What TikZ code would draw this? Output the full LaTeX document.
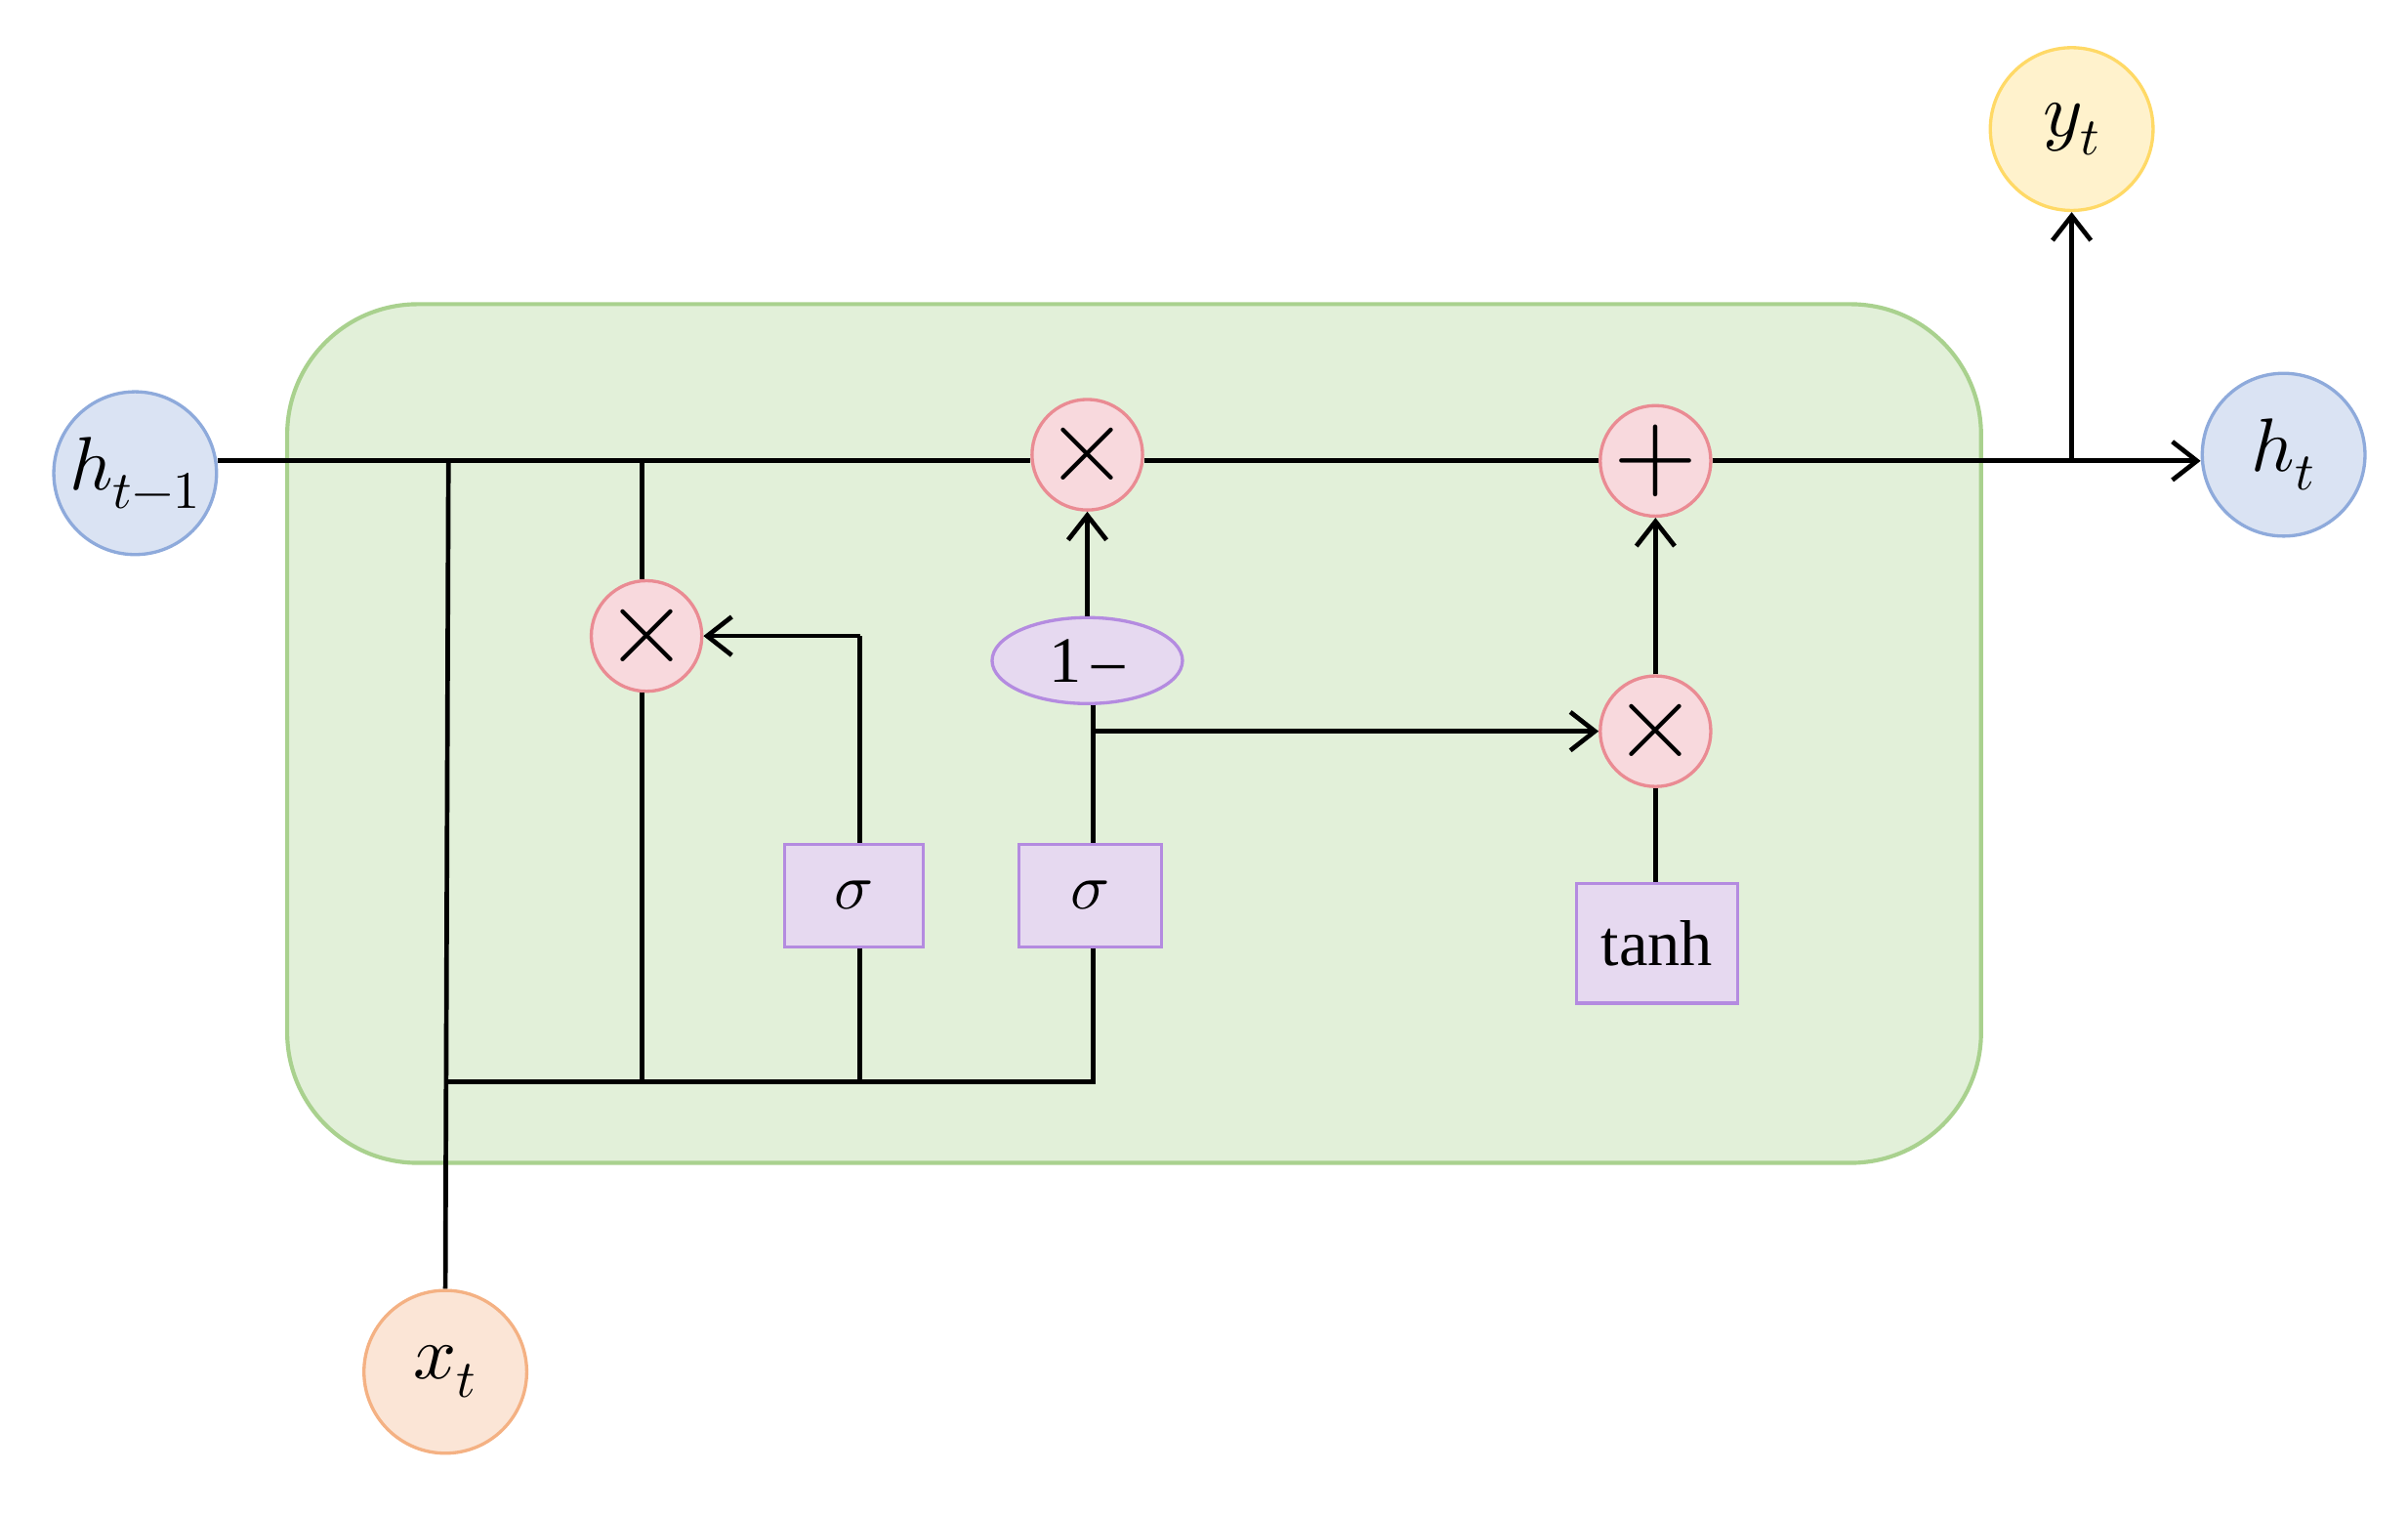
\documentclass[tikz,border=0pt]{standalone}
\usepackage{fontspec}
\usepackage{unicode-math}
\setmainfont{Liberation Serif}
\setmathfont{Latin Modern Math}
\usetikzlibrary{arrows.meta,shapes.geometric}
\definecolor{gfill}{HTML}{E2F0D9}\definecolor{gline}{HTML}{A9D18E}
\definecolor{bfill}{HTML}{DAE3F3}\definecolor{bline}{HTML}{8EAADB}
\definecolor{yfill}{HTML}{FFF2CC}\definecolor{yline}{HTML}{FFD966}
\definecolor{ofill}{HTML}{FBE5D6}\definecolor{oline}{HTML}{F4B183}
\definecolor{pfill}{HTML}{F8D9DD}\definecolor{pline}{HTML}{EA8B93}
\definecolor{vfill}{HTML}{E6D9F0}\definecolor{vline}{HTML}{B48BE0}
\begin{document}
\begin{tikzpicture}[x=0.02cm,y=-0.02cm,
  io/.style={circle,draw,line width=1.2pt,minimum size=2.12cm,inner sep=0pt,font=\fontsize{28}{32}\selectfont},
  op/.style={circle,draw=pline,fill=pfill,line width=1.2pt,minimum size=1.44cm,inner sep=0pt,font=\fontsize{40}{40}\selectfont},
  box/.style={rectangle,draw=vline,fill=vfill,line width=1.2pt,inner sep=0pt,font=\fontsize{24}{28}\selectfont},
  ln/.style={line width=1.7pt},
  ar/.style={ln,-{Straight Barb[length=3.2mm,width=5mm,line width=1.7pt]}}]
\useasboundingbox (0,0) rectangle (1568,985);
\draw[fill=gfill,draw=gline,line width=1.5pt,rounded corners=1.7cm] (187,198) rectangle (1290,757);
\node[io,fill=bfill,draw=bline] (hp) at (88,308) {$h_{t-1}$};
\node[io,fill=bfill,draw=bline] (ht) at (1487,296) {$h_t$};
\node[io,fill=yfill,draw=yline] (yt) at (1349,84) {$y_t$};
\node[io,fill=ofill,draw=oline] (xt) at (290,893) {$x_t$};
\node[op] (m1) at (708,296) {$\times$};
\node[op] (pl) at (1078,300) {$+$};
\node[op] (m2) at (421,414) {$\times$};
\node[op] (m3) at (1078,476) {$\times$};
\node[ellipse,draw=vline,fill=vfill,line width=1.2pt,minimum width=2.48cm,minimum height=1.12cm,inner sep=0pt,font=\fontsize{24}{28}\selectfont] (om) at (708,430) {1\,–};
\node[box,minimum width=1.8cm,minimum height=1.34cm] (s1) at (556,583) {$\sigma$};
\node[box,minimum width=1.86cm,minimum height=1.34cm] (s2) at (710,583) {$\sigma$};
\node[box,minimum width=2.1cm,minimum height=1.56cm] (th) at (1079,614) {tanh};
\coordinate (a1) at (292,300); \coordinate (a2) at (418,300);
\coordinate (b0) at (292,704); \coordinate (b1) at (418,704); \coordinate (b2) at (560,704); \coordinate (b3) at (712,704);
\coordinate (yb) at (1349,300); \coordinate (c1) at (560,414); \coordinate (d1) at (712,476);
\draw[ln] (hp.east |- 0,300) -- (m1.west |- 0,300);
\draw[ln] (m1.east |- 0,300) -- (pl.west);
\draw[ar] (pl.east) -- (ht.west |- 0,300);
\draw[ar] (yb) -- (yt.south);
\draw[ln] (xt.north) -- (a1);
\draw[ln] (b0) -- (b3) -- (s2.south -| b3);
\draw[ln] (a2) -- (m2.north -| a2);
\draw[ln] (m2.south -| a2) -- (b1);
\draw[ln] (b2) -- (s1.south -| b2);
\draw[ln] (s1.north -| c1) -- (c1);
\draw[ar] (c1) -- (m2.east);
\draw[ln] (s2.north -| d1) -- (om.south -| d1);
\draw[ar] (d1) -- (m3.west);
\draw[ar] (om.north) -- (m1.south);
\draw[ln] (th.north -| m3) -- (m3.south);
\draw[ar] (m3.north) -- (pl.south);
\end{tikzpicture}
\end{document}
